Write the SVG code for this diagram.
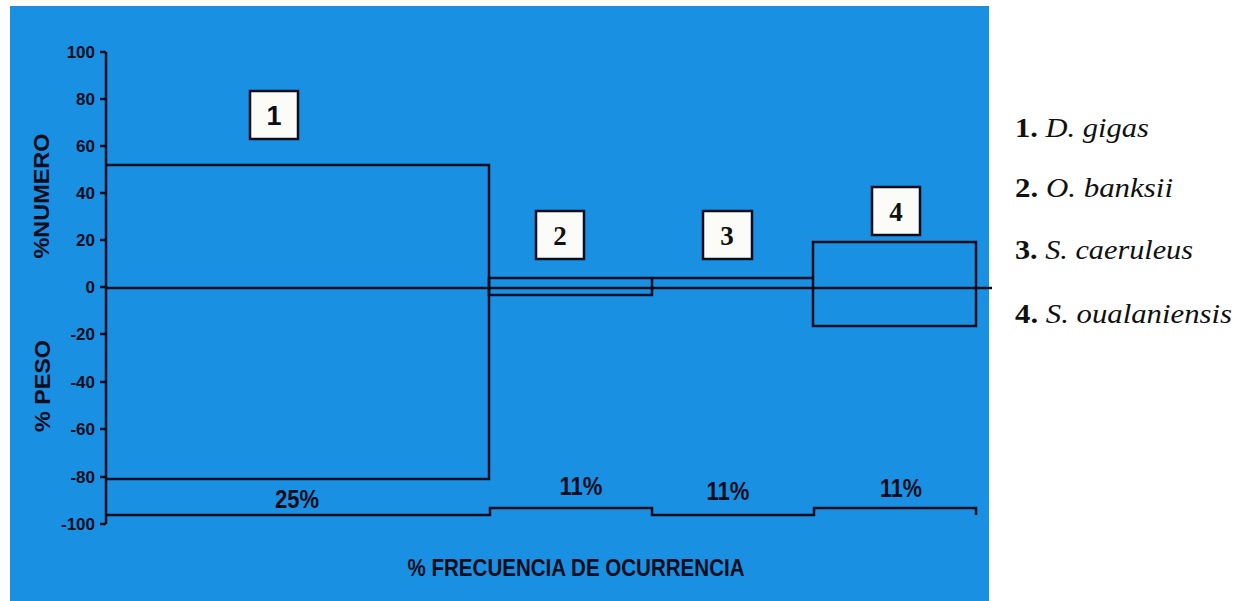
<svg xmlns="http://www.w3.org/2000/svg" width="1241" height="601" viewBox="0 0 1241 601">
<style>
.ln{fill:none;stroke:#0b0d1c;stroke-width:2.5}
.tick{font-family:"Liberation Sans",Arial,sans-serif;font-size:17px;font-weight:bold;fill:#0b0d1c;text-anchor:end}
.ttl{font-family:"Liberation Sans",Arial,sans-serif;font-weight:bold;fill:#0b0d1c;text-anchor:middle}
.pct{font-family:"Liberation Sans",Arial,sans-serif;font-size:25px;font-weight:bold;fill:#0b0d1c;text-anchor:middle}
.lbox{fill:#fbfbf8;stroke:#0b0d1c;stroke-width:2.5}
.lnum{font-family:"Liberation Serif","Times New Roman",serif;font-size:27px;font-weight:bold;fill:#111;text-anchor:middle}
.leg{font-family:"Liberation Serif","Times New Roman",serif;font-size:28px;fill:#111}
.legn{font-weight:bold}
.legs{font-style:italic}
</style>
<rect x="0" y="0" width="1241" height="601" fill="#ffffff"/>
<rect x="10" y="6" width="979" height="595" fill="#1a90e2"/>

<g id="axis">
<line class="ln" x1="106" y1="52" x2="106" y2="524"/>
<path class="ln" d="M100,52H106M100,99H106M100,146H106M100,193H106M100,240H106M100,287H106M100,334H106M100,382H106M100,429H106M100,477H106M100,524H106" stroke-width="1.5"/>
<text class="tick" x="95" y="58">100</text>
<text class="tick" x="95" y="105">80</text>
<text class="tick" x="95" y="152">60</text>
<text class="tick" x="95" y="199">40</text>
<text class="tick" x="95" y="246">20</text>
<text class="tick" x="95" y="293">0</text>
<text class="tick" x="95" y="340">-20</text>
<text class="tick" x="95" y="388">-40</text>
<text class="tick" x="95" y="435">-60</text>
<text class="tick" x="95" y="483">-80</text>
<text class="tick" x="95" y="530">-100</text>
<text class="ttl" font-size="22" transform="translate(49,196) rotate(-90)" textLength="125" lengthAdjust="spacingAndGlyphs">%NUMERO</text>
<text class="ttl" font-size="22" transform="translate(50,386) rotate(-90)" textLength="92" lengthAdjust="spacingAndGlyphs">% PESO</text>
<text class="ttl" font-size="24" x="576" y="576" textLength="337" lengthAdjust="spacingAndGlyphs">% FRECUENCIA DE OCURRENCIA</text>
</g>

<g id="connectors">
<line class="ln" x1="106" y1="288" x2="992" y2="288"/>
<path class="ln" d="M106,515H490V508H652V515H814V508H976V515"/>
</g>

<g id="bar1">
<path class="ln" d="M106,165H489V479H106"/>
<rect class="lbox" x="250" y="91" width="48" height="48"/>
<text class="ttl" font-size="27" x="274" y="125">1</text>
<text class="pct" x="297" y="508" textLength="44" lengthAdjust="spacingAndGlyphs">25%</text>
</g>

<g id="bar2">
<rect class="ln" x="489" y="278" width="163" height="17"/>
<rect class="lbox" x="536" y="211" width="48" height="48"/>
<text class="lnum" x="560" y="245">2</text>
<text class="pct" x="581" y="495" textLength="43" lengthAdjust="spacingAndGlyphs">11%</text>
</g>

<g id="bar3">
<path class="ln" d="M652,278H813"/>
<rect class="lbox" x="703" y="211" width="49" height="48"/>
<text class="lnum" x="727" y="245">3</text>
<text class="pct" x="728" y="500" textLength="43" lengthAdjust="spacingAndGlyphs">11%</text>
</g>

<g id="bar4">
<rect class="ln" x="813" y="242" width="163" height="84"/>
<rect class="lbox" x="872" y="187" width="48" height="48"/>
<text class="lnum" x="896" y="221">4</text>
<text class="pct" x="901" y="497" textLength="42" lengthAdjust="spacingAndGlyphs">11%</text>
</g>

<g id="legend">
<text class="leg" x="1015" y="137" textLength="134" lengthAdjust="spacingAndGlyphs"><tspan class="legn">1.</tspan> <tspan class="legs">D. gigas</tspan></text>
<text class="leg" x="1015" y="197" textLength="158" lengthAdjust="spacingAndGlyphs"><tspan class="legn">2.</tspan> <tspan class="legs">O. banksii</tspan></text>
<text class="leg" x="1015" y="259" textLength="178" lengthAdjust="spacingAndGlyphs"><tspan class="legn">3.</tspan> <tspan class="legs">S. caeruleus</tspan></text>
<text class="leg" x="1015" y="323" textLength="217" lengthAdjust="spacingAndGlyphs"><tspan class="legn">4.</tspan> <tspan class="legs">S. oualaniensis</tspan></text>
</g>
</svg>
